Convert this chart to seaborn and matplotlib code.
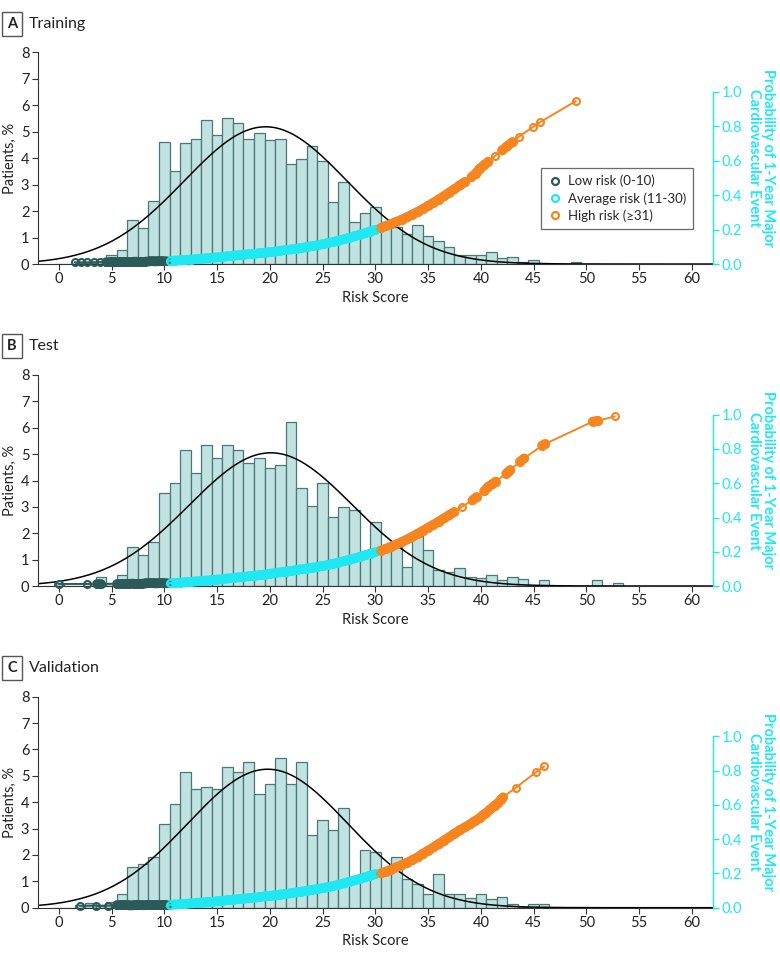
import numpy as np
import pandas as pd
import seaborn as sns
import matplotlib.pyplot as plt
from matplotlib.lines import Line2D

sns.set_style("ticks")
plt.rcParams['font.family'] = ['Lato', 'DejaVu Sans']

# ---- histogram bins (risk score -> % of patients) ----
a_scores = [2, 3, 4, 5, 6, 7, 8, 9, 10, 11, 12, 13, 14, 15, 16, 17, 18, 19, 20, 21, 22, 23, 24, 25,
            26, 27, 28, 29, 30, 31, 32, 33, 34, 35, 36, 37, 38, 39, 40, 41, 42, 43, 44, 45, 46, 47, 49]
a_pct = [0.04, 0.05, 0.08, 0.33, 0.53, 1.65, 1.35, 2.37, 4.62, 3.51, 4.58, 4.72, 5.44, 4.86, 5.53, 5.34,
         4.71, 4.96, 4.67, 4.71, 3.79, 3.97, 4.45, 3.88, 2.33, 3.10, 1.57, 1.94, 2.17, 1.60, 1.38, 1.15,
         1.46, 1.07, 0.86, 0.65, 0.35, 0.35, 0.35, 0.44, 0.21, 0.25, 0.09, 0.14, 0.05, 0.02, 0.06]

b_scores = [0, 4, 5, 6, 7, 8, 9, 10, 11, 12, 13, 14, 15, 16, 17, 18, 19, 20, 21, 22, 23, 24, 25, 26,
            27, 28, 29, 30, 31, 32, 33, 34, 35, 36, 37, 38, 39, 40, 41, 42, 43, 44, 46, 51, 53]
b_pct = [0.10, 0.35, 0.12, 0.40, 1.47, 1.16, 1.66, 3.54, 3.92, 5.15, 4.30, 5.34, 4.87, 5.34, 5.15, 4.68,
         4.87, 4.49, 4.60, 6.21, 3.73, 3.05, 3.92, 2.60, 2.98, 2.87, 1.10, 2.41, 1.50, 1.48, 0.72, 1.90,
         1.37, 0.61, 0.52, 0.68, 0.33, 0.30, 0.42, 0.21, 0.33, 0.25, 0.23, 0.23, 0.12]

c_scores = [2, 3, 4, 5, 6, 7, 8, 9, 10, 11, 12, 13, 14, 15, 16, 17, 18, 19, 20, 21, 22, 23, 24, 25,
            26, 27, 28, 29, 30, 31, 32, 33, 34, 35, 36, 37, 38, 39, 40, 41, 42, 43, 44, 45, 46]
c_pct = [0.10, 0.19, 0.06, 0.20, 0.52, 1.55, 1.64, 1.93, 3.16, 3.92, 5.15, 4.49, 4.58, 4.49, 5.34, 5.15,
         5.52, 4.30, 4.68, 5.69, 4.68, 5.52, 2.77, 3.31, 2.96, 3.78, 1.15, 2.19, 2.10, 1.30, 1.91, 1.07,
         0.88, 0.51, 1.26, 0.51, 0.51, 0.35, 0.51, 0.32, 0.39, 0.13, 0.04, 0.13, 0.13]

# fitted normal curve: peak height, mean, sd
a_norm = (5.18, 19.6, 7.7)
b_norm = (5.05, 20.1, 7.75)
c_norm = (5.25, 19.8, 7.6)

# ---- predicted probability of 1-year MACE by score ----
a_low_x = [1.5, 2.1, 2.7, 3.3, 3.9, 4.5, 5.0, 5.4, 5.8, 6.2, 6.6, 7.0, 7.4, 7.8, 8.2, 8.6, 9.0, 9.4, 9.8, 10.2]
a_low_p = [0.010, 0.010, 0.010, 0.011, 0.011, 0.011, 0.012, 0.012, 0.012, 0.013, 0.013, 0.013, 0.014,
           0.014, 0.014, 0.015, 0.015, 0.016, 0.016, 0.017]
a_avg_x = [10.5, 11.0, 11.5, 12.0, 12.5, 13.0, 13.5, 14.0, 14.5, 15.0, 15.5, 16.0, 16.5, 17.0, 17.5, 18.0,
           18.5, 19.0, 19.5, 20.0, 20.5, 21.0, 21.5, 22.0, 22.5, 23.0, 23.5, 24.0, 24.5, 25.0, 25.5, 26.0,
           26.5, 27.0, 27.5, 28.0, 28.5, 29.0, 29.5, 30.0]
a_avg_p = [.018, .020, .022, .024, .026, .029, .031, .034, .036, .039, .042, .045, .048, .051, .054, .057,
           .060, .063, .066, .069, .073, .077, .081, .085, .089, .094, .099, .104, .109, .115, .122, .129,
           .136, .144, .152, .161, .170, .179, .189, .199]
a_high_x = [30.5, 31.0, 31.5, 32.0, 32.5, 33.0, 33.5, 34.0, 34.5, 35.0, 35.5, 36.0, 36.5, 37.0, 37.5, 38.0,
            38.5, 39.1, 39.5, 39.9, 40.3, 40.7, 41.3, 42.0, 42.5, 43.0, 43.6, 44.9, 45.6, 49.0]
a_high_p = [.210, .221, .233, .245, .258, .272, .287, .303, .320, .338, .356, .375, .395, .415, .436, .457,
            .478, .505, .525, .555, .575, .595, .625, .660, .685, .710, .740, .795, .824, .947]

b_low_x = [0.0, 2.7, 3.6, 4.0, 5.5, 5.9, 6.3, 6.7, 7.1, 7.5, 7.9, 8.3, 8.7, 9.1, 9.5, 9.9, 10.3]
b_low_p = [.012, .012, .012, .012, .013, .013, .013, .013, .014, .014, .014, .015, .015, .015, .016, .016, .017]
b_avg_x = a_avg_x
b_avg_p = [.016, .018, .020, .022, .025, .027, .030, .032, .035, .038, .041, .044, .047, .050, .053, .057,
           .060, .063, .067, .072, .076, .080, .084, .088, .093, .098, .102, .107, .112, .117, .123, .130,
           .137, .145, .153, .161, .170, .179, .188, .198]
b_high_x = [30.5, 31.0, 31.5, 32.0, 32.5, 33.0, 33.5, 34.0, 34.5, 35.0, 35.5, 36.0, 36.5, 37.0, 37.5, 38.2,
            39.2, 39.6, 40.3, 40.7, 41.1, 41.4, 42.4, 42.6, 42.8, 43.7, 44.1, 45.8, 46.1, 50.6, 51.1, 52.7]
b_high_p = [.207, .218, .230, .243, .257, .272, .288, .305, .322, .340, .358, .376, .395, .414, .433, .463,
            .500, .520, .553, .580, .595, .610, .656, .667, .678, .726, .745, .820, .830, .960, .965, .990]

c_low_x = [2.0, 3.5, 4.7, 5.5, 5.9, 6.3, 6.7, 7.1, 7.5, 7.9, 8.3, 8.7, 9.1, 9.5, 9.9, 10.3]
c_low_p = [.011, .012, .012, .013, .013, .013, .013, .014, .014, .014, .015, .015, .015, .016, .016, .017]
c_avg_x = a_avg_x
c_avg_p = [.017, .019, .021, .023, .025, .028, .030, .033, .035, .038, .041, .044, .047, .050, .053, .056,
           .059, .062, .066, .069, .073, .077, .081, .085, .089, .094, .099, .104, .109, .114, .120, .127,
           .134, .142, .150, .159, .168, .177, .187, .197]
c_high_x = [30.5, 31.0, 31.5, 32.0, 32.5, 33.0, 33.5, 34.0, 34.5, 35.0, 35.5, 36.0, 36.5, 37.0, 37.5, 38.0,
            38.5, 38.95, 39.4, 39.9, 40.2, 40.5, 40.9, 41.3, 41.6, 41.9, 42.1, 43.3, 45.2, 46.0]
c_high_p = [.200, .211, .223, .236, .249, .263, .278, .294, .315, .333, .352, .372, .392, .412, .433, .452,
            .470, .486, .505, .524, .540, .553, .575, .595, .610, .630, .645, .700, .790, .825]

panel_letters = ['A', 'B', 'C']
panel_titles = ['Training', 'Test', 'Validation']
legend_labels = ['Low risk (0-10)', 'Average risk (11-30)', 'High risk (\u226531)']

BAR_FC = '#c0e2e0'
BAR_EC = '#4a7876'
LOW_C = '#2c5a58'
AVG_C = '#1ee8f2'
HIGH_C = '#f7851f'
AX_C = '#333333'

panels = [
    dict(scores=a_scores, pct=a_pct, norm=a_norm,
         groups=[(a_low_x, a_low_p), (a_avg_x, a_avg_p), (a_high_x, a_high_p)]),
    dict(scores=b_scores, pct=b_pct, norm=b_norm,
         groups=[(b_low_x, b_low_p), (b_avg_x, b_avg_p), (b_high_x, b_high_p)]),
    dict(scores=c_scores, pct=c_pct, norm=c_norm,
         groups=[(c_low_x, c_low_p), (c_avg_x, c_avg_p), (c_high_x, c_high_p)]),
]

# axes boxes in figure fraction (left, bottom, width, height)
boxes = [[0.0483, 0.7261, 0.8658, 0.2199],
         [0.0483, 0.3921, 0.8658, 0.2189],
         [0.0483, 0.0584, 0.8658, 0.2189]]
title_y = [0.975, 0.641, 0.307]


def draw_group(ax2, xs, ps, color):
    xs = np.asarray(xs)
    ps = np.asarray(ps)
    # dense runs of patients merge into a solid band
    close = np.diff(xs) <= 0.55
    for i in np.where(close)[0]:
        ax2.plot(xs[i:i + 2], ps[i:i + 2], color=color, lw=7.0, solid_capstyle='round',
                 clip_on=False, zorder=3)
    ax2.plot(xs, ps, color=color, lw=1.4, marker='o', ms=5.0, mfc='none', mew=1.5,
             clip_on=False, zorder=4)


fig = plt.figure(figsize=(7.8, 9.64), dpi=100)
colors = [LOW_C, AVG_C, HIGH_C]

for k, p in enumerate(panels):
    ax = fig.add_axes(boxes[k])
    df = pd.DataFrame({'score': p['scores'], 'pct': p['pct']})
    sns.histplot(data=df, x='score', weights='pct', binwidth=1, binrange=(-0.5, 53.5), ax=ax,
                 color=BAR_FC, edgecolor=BAR_EC, linewidth=0.9, alpha=1)

    peak, mu, sd = p['norm']
    xs = np.linspace(-2, 62, 400)
    ax.plot(xs, peak * np.exp(-(xs - mu) ** 2 / (2 * sd ** 2)), color='black', lw=1.1, zorder=2)

    ax.set_xlim(-2, 62)
    ax.set_ylim(0, 8)
    ax.set_xticks(range(0, 61, 5))
    ax.set_yticks(range(0, 9))
    ax.set_xlabel('Risk Score', fontsize=10.5, color='#222222', labelpad=3)
    ax.set_ylabel('Patients, %', fontsize=10.5, color='#222222', labelpad=3)
    ax.tick_params(axis='both', labelsize=10.5, labelcolor='#222222', color=AX_C,
                   length=4, width=0.8, pad=2)
    for s in ['top', 'right']:
        ax.spines[s].set_visible(False)
    for s in ['left', 'bottom']:
        ax.spines[s].set_color(AX_C)
        ax.spines[s].set_linewidth(0.8)

    ax2 = ax.twinx()
    for (gx, gp), c in zip(p['groups'], colors):
        draw_group(ax2, gx, gp, c)
    ax2.set_ylim(0, 1.232)
    ax2.set_yticks([0, 0.2, 0.4, 0.6, 0.8, 1.0])
    ax2.set_yticklabels(['0.0', '0.2', '0.4', '0.6', '0.8', '1.0'])
    ax2.spines['right'].set_bounds(0, 1)
    ax2.spines['right'].set_color(AVG_C)
    ax2.spines['right'].set_linewidth(1.0)
    for s in ['top', 'left', 'bottom']:
        ax2.spines[s].set_visible(False)
    ax2.tick_params(axis='y', labelsize=10.5, colors=AVG_C, length=4, width=1.0, pad=2)
    ax2.set_ylabel('Probability of 1-Year Major\nCardiovascular Event', rotation=270,
                   color=AVG_C, fontsize=10.5, fontweight='bold', labelpad=24, linespacing=1.0)

    if k == 0:
        handles = [Line2D([], [], ls='none', marker='o', ms=5, mfc='none', mew=1.6, mec=c)
                   for c in colors]
        leg = ax2.legend(handles, legend_labels, loc='upper left', bbox_to_anchor=(0.745, 0.455),
                         frameon=True, fancybox=False, fontsize=9.5, handletextpad=0.4,
                         borderpad=0.55, labelspacing=0.35, handlelength=1.1, borderaxespad=0)
        leg.get_frame().set_edgecolor('#444444')
        leg.get_frame().set_linewidth(0.9)

    fig.text(12 / 780, title_y[k], panel_letters[k], ha='center', va='center', fontsize=10.5,
             fontweight='bold', color='#222222',
             bbox=dict(boxstyle='square,pad=0.35', fc='white', ec='#555555', lw=1))
    fig.text(29 / 780, title_y[k], panel_titles[k], ha='left', va='center', fontsize=11.5,
             color='#222222')

fig.savefig('out.png', dpi=100)
